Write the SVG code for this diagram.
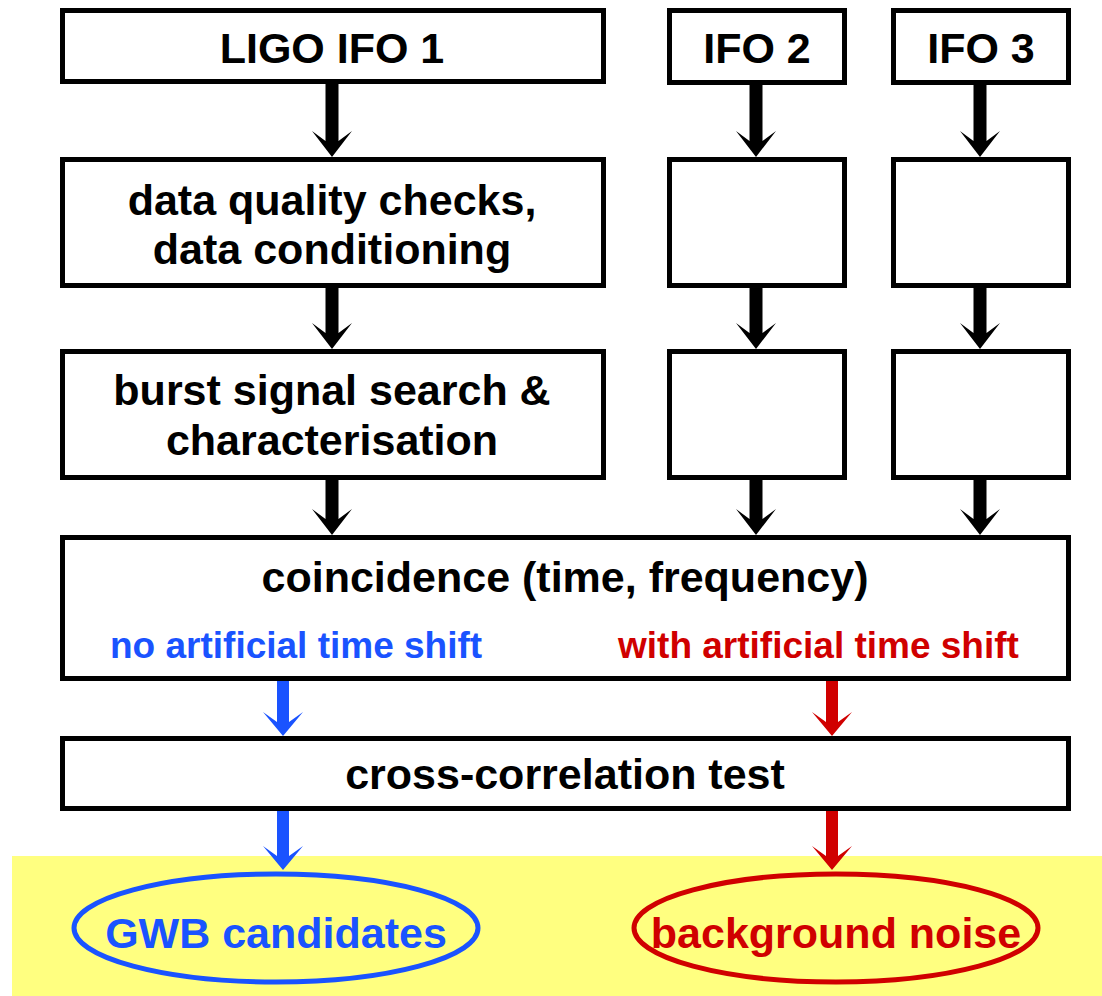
<svg xmlns="http://www.w3.org/2000/svg" width="1102" height="996" viewBox="0 0 1102 996">
<style>
.box{fill:#fff;stroke:#000;stroke-width:5}
.t{font-family:"Liberation Sans",Arial,sans-serif;font-weight:bold;font-size:43px;text-anchor:middle;fill:#000}
.s{font-family:"Liberation Sans",Arial,sans-serif;font-weight:bold;font-size:37px}
.blue{fill:#1A53FF}
.red{fill:#D00000}
.ak{fill:#000}
</style>
<rect x="12" y="856" width="1090" height="140" fill="#FFFF80"/>
<g id="ifo1"><rect class="box" x="62.5" y="10.5" width="541" height="71"/><text class="t" x="332" y="63">LIGO IFO 1</text></g>
<g id="ifo2"><rect class="box" x="669.5" y="10.5" width="175" height="72"/><text class="t" x="757" y="63">IFO 2</text></g>
<g id="ifo3"><rect class="box" x="893.5" y="10.5" width="175" height="72"/><text class="t" x="981" y="63">IFO 3</text></g>
<g id="dq1"><rect class="box" x="62.5" y="159.5" width="541" height="126"/><text class="t" x="332" y="215">data quality checks,</text><text class="t" x="332" y="264">data conditioning</text></g>
<g id="dq2"><rect class="box" x="669.5" y="159.5" width="175" height="126"/></g>
<g id="dq3"><rect class="box" x="893.5" y="159.5" width="175" height="126"/></g>
<g id="bs1"><rect class="box" x="62.5" y="351.5" width="541" height="126"/><text class="t" x="332" y="405">burst signal search &amp;</text><text class="t" x="332" y="455">characterisation</text></g>
<g id="bs2"><rect class="box" x="669.5" y="351.5" width="175" height="126"/></g>
<g id="bs3"><rect class="box" x="893.5" y="351.5" width="175" height="126"/></g>
<g id="coinc"><rect class="box" x="62.5" y="537.5" width="1006" height="141"/><text class="t" x="565" y="592">coincidence (time, frequency)</text><text class="s blue" x="110" y="658">no artificial time shift</text><text class="s red" x="618" y="658">with artificial time shift</text></g>
<g id="xcorr"><rect class="box" x="62.5" y="738.5" width="1006" height="70"/><text class="t" x="565" y="789">cross-correlation test</text></g>
<g id="gwb"><ellipse cx="276" cy="928" rx="202" ry="54" fill="none" stroke="#1A53FF" stroke-width="5"/><text class="t blue" x="276" y="948">GWB candidates</text></g>
<g id="bg"><ellipse cx="836" cy="928" rx="202" ry="54" fill="none" stroke="#D00000" stroke-width="5"/><text class="t red" x="836" y="948">background noise</text></g>
<g id="connectors">
<polygon class="ak" points="325.5,84 325.5,141 312,131 332,157 352,131 338.5,141 338.5,84"/>
<polygon class="ak" points="749.5,85 749.5,141 736,131 756,157 776,131 762.5,141 762.5,85"/>
<polygon class="ak" points="973.5,85 973.5,141 960,131 980,157 1000,131 986.5,141 986.5,85"/>
<polygon class="ak" points="325.5,288 325.5,333 312,323 332,349 352,323 338.5,333 338.5,288"/>
<polygon class="ak" points="749.5,288 749.5,333 736,323 756,349 776,323 762.5,333 762.5,288"/>
<polygon class="ak" points="973.5,288 973.5,333 960,323 980,349 1000,323 986.5,333 986.5,288"/>
<polygon class="ak" points="325.5,480 325.5,519 312,509 332,535 352,509 338.5,519 338.5,480"/>
<polygon class="ak" points="749.5,480 749.5,519 736,509 756,535 776,509 762.5,519 762.5,480"/>
<polygon class="ak" points="973.5,480 973.5,519 960,509 980,535 1000,509 986.5,519 986.5,480"/>
<polygon class="blue" points="277,681 277,722 263,712 283,736 303,712 289,722 289,681"/>
<polygon class="red" points="826,681 826,722 812,712 832,736 852,712 838,722 838,681"/>
<polygon class="blue" points="277,811 277,856 263,846 283,870 303,846 289,856 289,811"/>
<polygon class="red" points="826,811 826,856 812,846 832,870 852,846 838,856 838,811"/>
</g>
</svg>
